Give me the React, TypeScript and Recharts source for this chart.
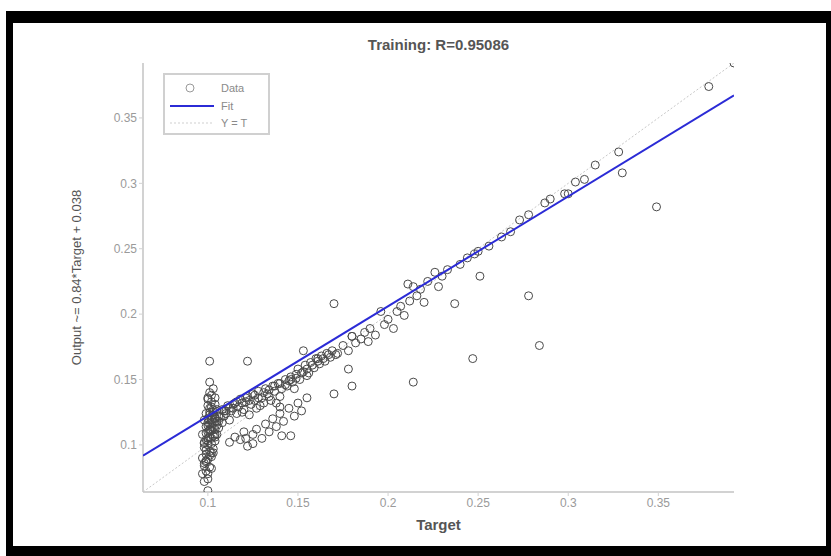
import React from 'react';
import {
  ScatterChart,
  Scatter,
  XAxis,
  YAxis,
  Legend,
} from 'recharts';

// target / output pairs
const targetVals: number[] = [
  // vertical clump around target = 0.1
  0.100, 0.100, 0.099, 0.101, 0.098, 0.100, 0.102, 0.099, 0.101, 0.103,
  0.098, 0.100, 0.102, 0.104, 0.099, 0.101, 0.103, 0.105, 0.100, 0.102,
  0.104, 0.106, 0.099, 0.101, 0.103, 0.105, 0.100, 0.102, 0.104, 0.101,
  0.103, 0.100, 0.102, 0.104, 0.101, 0.103, 0.101, 0.101, 0.122, 0.097,
  0.098, 0.097, 0.099, 0.098, 0.097, 0.100, 0.099, 0.101, 0.098, 0.100,
  0.102, 0.099, 0.101, 0.103, 0.100, 0.102, 0.104, 0.101, 0.108, 0.110,
  0.098, 0.100, 0.102, 0.099, 0.101, 0.103, 0.098, 0.100, 0.102, 0.104,
  0.099, 0.101, 0.103, 0.105, 0.100, 0.102, 0.104, 0.106, 0.101, 0.103,
  0.105, 0.102, 0.104, 0.100, 0.102,
  // band from 0.105 to 0.17
  0.107, 0.108, 0.110, 0.111, 0.112, 0.113, 0.115, 0.116, 0.117, 0.118,
  0.120, 0.121, 0.122, 0.123, 0.124, 0.125, 0.126, 0.127, 0.128, 0.130,
  0.131, 0.132, 0.133, 0.135, 0.136, 0.137, 0.139, 0.140, 0.141, 0.143,
  0.144, 0.146, 0.147, 0.149, 0.150, 0.151, 0.153, 0.154, 0.156, 0.157,
  0.159, 0.160, 0.162, 0.163, 0.165, 0.166, 0.168, 0.169, 0.171, 0.106,
  0.109, 0.114, 0.119, 0.129, 0.134, 0.138, 0.145, 0.148, 0.155, 0.161,
  0.109, 0.112, 0.114, 0.116, 0.119, 0.121, 0.123, 0.126, 0.128, 0.131,
  0.134, 0.137, 0.140, 0.143, 0.146, 0.149, 0.152, 0.155, 0.158, 0.161,
  0.164, 0.167,
  // below the band
  0.112, 0.115, 0.118, 0.120, 0.122, 0.125, 0.127, 0.130, 0.132, 0.134,
  0.136, 0.138, 0.140, 0.142, 0.145, 0.148, 0.150, 0.152, 0.155, 0.140,
  0.146, 0.125, 0.121, 0.141,
  // upper diagonal
  0.172, 0.175, 0.178, 0.180, 0.182, 0.185, 0.187, 0.189, 0.190, 0.193,
  0.196, 0.198, 0.200, 0.203, 0.205, 0.207, 0.209, 0.211, 0.212, 0.214,
  0.216, 0.218, 0.220, 0.222, 0.226, 0.228, 0.230, 0.233, 0.240, 0.244,
  0.248, 0.250, 0.256, 0.263, 0.268, 0.273, 0.278, 0.287, 0.290, 0.298,
  0.300, 0.304, 0.309, 0.315, 0.328, 0.330, 0.378, 0.392,
  // outliers
  0.170, 0.153, 0.178, 0.180, 0.170, 0.214, 0.237, 0.251, 0.247, 0.278,
  0.284, 0.349, 0.180,
];

const outputVals: number[] = [
  0.065, 0.074, 0.080, 0.083, 0.086, 0.089, 0.091, 0.093, 0.095, 0.097,
  0.098, 0.100, 0.101, 0.103, 0.104, 0.106, 0.107, 0.108, 0.110, 0.111,
  0.112, 0.113, 0.114, 0.116, 0.117, 0.118, 0.120, 0.122, 0.121, 0.125,
  0.127, 0.130, 0.133, 0.136, 0.140, 0.143, 0.148, 0.164, 0.164, 0.078,
  0.084, 0.090, 0.096, 0.102, 0.108, 0.115, 0.124, 0.128, 0.119, 0.105,
  0.094, 0.087, 0.112, 0.123, 0.135, 0.114, 0.108, 0.119, 0.117, 0.126,
  0.072, 0.078, 0.082, 0.088, 0.092, 0.094, 0.101, 0.103, 0.105, 0.106,
  0.109, 0.111, 0.113, 0.115, 0.117, 0.119, 0.120, 0.122, 0.123, 0.125,
  0.127, 0.129, 0.131, 0.136, 0.138,
  0.121, 0.127, 0.124, 0.130, 0.119, 0.126, 0.132, 0.124, 0.129, 0.135,
  0.127, 0.133, 0.137, 0.123, 0.131, 0.139, 0.134, 0.128, 0.141, 0.136,
  0.132, 0.143, 0.139, 0.134, 0.145, 0.141, 0.147, 0.137, 0.143, 0.150,
  0.145, 0.152, 0.148, 0.154, 0.158, 0.150, 0.156, 0.161, 0.155, 0.163,
  0.159, 0.166, 0.162, 0.168, 0.164, 0.170, 0.167, 0.172, 0.169, 0.118,
  0.122, 0.128, 0.125, 0.130, 0.137, 0.132, 0.149, 0.143, 0.153, 0.164,
  0.126, 0.128, 0.131, 0.133, 0.132, 0.136, 0.134, 0.138, 0.136, 0.140,
  0.142, 0.145, 0.147, 0.146, 0.150, 0.151, 0.155, 0.158, 0.161, 0.166,
  0.166, 0.169,
  0.102, 0.106, 0.104, 0.110, 0.099, 0.108, 0.112, 0.105, 0.116, 0.110,
  0.120, 0.114, 0.124, 0.118, 0.128, 0.122, 0.132, 0.126, 0.136, 0.129,
  0.107, 0.101, 0.105, 0.107,
  0.170, 0.176, 0.172, 0.183, 0.178, 0.181, 0.186, 0.179, 0.189, 0.184,
  0.202, 0.192, 0.196, 0.189, 0.202, 0.206, 0.199, 0.223, 0.210, 0.221,
  0.214, 0.219, 0.209, 0.225, 0.232, 0.221, 0.229, 0.234, 0.238, 0.243,
  0.246, 0.248, 0.252, 0.259, 0.263, 0.272, 0.276, 0.285, 0.288, 0.292,
  0.292, 0.301, 0.303, 0.314, 0.324, 0.308, 0.374, 0.392,
  0.208, 0.172, 0.158, 0.145, 0.139, 0.148, 0.208, 0.229, 0.166, 0.214,
  0.176, 0.282, 0.183,
];

// fitted line end points and the Y = T diagonal
const fitTarget = [0.064, 0.392];
const fitOutput = [0.0918, 0.3673];
const idealVals = [0.064, 0.392];

const ticks = [0.1, 0.15, 0.2, 0.25, 0.3, 0.35];
const legendLabels = ['Data', 'Fit', 'Y = T'];
const title = 'Training: R=0.95086';

const points = targetVals.map((t, i) => ({ x: t, y: outputVals[i] }));
const fitData = fitTarget.map((t, i) => ({ x: t, y: fitOutput[i] }));
const idealData = idealVals.map((v) => ({ x: v, y: v }));

const font = 'Liberation Sans, Arial, sans-serif';
const axisGray = '#d2d2d2';
const tickStyle = { fill: '#9a9a9a', fontSize: 12, fontFamily: font };

const Circle = (p: any) => (
  <circle cx={p.cx} cy={p.cy} r={4} fill="none" stroke="#4a4a4a" strokeWidth={1} />
);
const NoDot = () => <g />;

const LegendBox = () => (
  <div
    style={{
      width: 107,
      height: 62,
      border: '2px solid #d0d0d0',
      background: '#fff',
      fontFamily: font,
      fontSize: 11,
      boxSizing: 'border-box',
    }}
  >
    <svg width={103} height={58} style={{ display: 'block' }}>
      <circle cx={25} cy={13} r={4} fill="none" stroke="#9a9a9a" />
      <text x={56} y={17} fill="#8a8a8a">{legendLabels[0]}</text>
      <line x1={5} x2={49} y1={31} y2={31} stroke="#2b2bd6" strokeWidth={2} />
      <text x={56} y={35} fill="#8a8a8a">{legendLabels[1]}</text>
      <line x1={5} x2={49} y1={48} y2={48} stroke="#cfcfcf" strokeDasharray="2 2" />
      <text x={56} y={52} fill="#8a8a8a">{legendLabels[2]}</text>
    </svg>
  </div>
);

export default function App() {
  return (
    <div style={{ position: 'absolute', left: 0, top: 0, width: 831, height: 556, background: '#fff' }}>
      <div
        style={{
          position: 'absolute',
          left: 6,
          top: 11,
          width: 825,
          height: 545,
          boxSizing: 'border-box',
          borderStyle: 'solid',
          borderColor: '#000',
          borderWidth: '12px 5px 10px 7px',
        }}
      />
      <div
        style={{
          position: 'absolute',
          left: 143,
          top: 36,
          width: 591,
          textAlign: 'center',
          fontFamily: font,
          fontSize: 15,
          fontWeight: 'bold',
          color: '#555',
        }}
      >
        {title}
      </div>
      <div style={{ position: 'absolute', left: 0, top: 0 }}>
        <ScatterChart width={831} height={556} margin={{ top: 63, right: 97, bottom: 14, left: 70 }}>
          <XAxis
            xAxisId="b"
            type="number"
            dataKey="x"
            domain={[0.064, 0.392]}
            ticks={ticks}
            allowDataOverflow
            height={50}
            tickFormatter={(v) => String(v)}
            tick={tickStyle}
            tickSize={4}
            axisLine={{ stroke: axisGray, strokeWidth: 2 }}
            tickLine={{ stroke: axisGray }}
            label={{
              value: 'Target',
              position: 'insideBottom',
              offset: 12,
              style: { fill: '#555', fontSize: 15, fontWeight: 'bold', fontFamily: font },
            }}
          />
          <XAxis
            xAxisId="t"
            orientation="top"
            type="number"
            dataKey="x"
            domain={[0.064, 0.392]}
            ticks={ticks}
            allowDataOverflow
            height={0}
            tick={false}
            tickSize={4}
            axisLine={{ stroke: axisGray, strokeWidth: 2 }}
            tickLine={{ stroke: axisGray }}
          />
          <YAxis
            yAxisId="l"
            type="number"
            dataKey="y"
            domain={[0.064, 0.392]}
            ticks={ticks}
            allowDataOverflow
            width={73}
            tickFormatter={(v) => String(v)}
            tick={tickStyle}
            tickSize={4}
            axisLine={{ stroke: axisGray, strokeWidth: 2 }}
            tickLine={{ stroke: axisGray }}
            label={{
              value: 'Output ~= 0.84*Target + 0.038',
              angle: -90,
              position: 'insideLeft',
              offset: 6,
              style: { textAnchor: 'middle', fill: '#555', fontSize: 13, fontFamily: font },
            }}
          />
          <YAxis
            yAxisId="r"
            orientation="right"
            type="number"
            dataKey="y"
            domain={[0.064, 0.392]}
            ticks={ticks}
            allowDataOverflow
            width={0}
            tick={false}
            tickSize={4}
            axisLine={{ stroke: axisGray, strokeWidth: 2 }}
            tickLine={{ stroke: axisGray }}
          />
          <Legend
            layout="horizontal"
            verticalAlign="middle"
            align="center"
            content={() => <LegendBox />}
            wrapperStyle={{ left: 163, top: 73, width: 107 }}
          />
          <Scatter
            xAxisId="b"
            yAxisId="l"
            data={idealData}
            line={{ stroke: '#c8c8c8', strokeWidth: 1, strokeDasharray: '2 2' }}
            shape={NoDot}
            legendType="none"
            isAnimationActive={false}
          />
          <Scatter
            xAxisId="b"
            yAxisId="l"
            data={points}
            shape={Circle}
            isAnimationActive={false}
          />
          <Scatter
            xAxisId="b"
            yAxisId="l"
            data={fitData}
            line={{ stroke: '#2b2bd6', strokeWidth: 2 }}
            shape={NoDot}
            isAnimationActive={false}
          />
        </ScatterChart>
      </div>
    </div>
  );
}
